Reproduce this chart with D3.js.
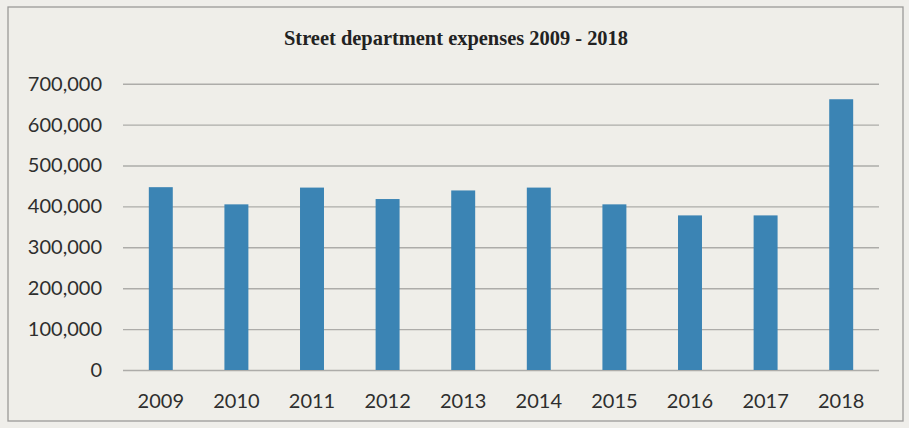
<!DOCTYPE html>
<html>
<head>
<meta charset="utf-8">
<script src="https://cdn.jsdelivr.net/npm/d3@7"></script>
<style>
  html, body { margin: 0; padding: 0; background: #efeeea; }
  svg { display: block; }
</style>
</head>
<body>
<svg id="chart" width="909" height="428"></svg>
<script>
// Annual street department expenses
const years = ["2009", "2010", "2011", "2012", "2013", "2014", "2015", "2016", "2017", "2018"];
const expenses = [447000, 405000, 446000, 418000, 439000, 446000, 405000, 378000, 378000, 662000];
const yTicks = [0, 100000, 200000, 300000, 400000, 500000, 600000, 700000];
const titleText = "Street department expenses 2009 - 2018";

const svg = d3.select("#chart");
const W = 909, H = 428;
const plot = { left: 123, right: 879, top: 83.7, bottom: 370 };

// background and frame
svg.append("rect").attr("width", W).attr("height", H).attr("fill", "#efeeea");
svg.append("rect")
  .attr("x", 8).attr("y", 7).attr("width", 895).attr("height", 414)
  .attr("fill", "#efeee9").attr("stroke", "#9a9a98").attr("stroke-width", 1.3);

const x = d3.scaleBand()
  .domain(years)
  .range([plot.left, plot.right])
  .paddingInner(0.683)
  .paddingOuter(0.3415);

const y = d3.scaleLinear()
  .domain([0, 700000])
  .range([plot.bottom, plot.top]);

// value axis with gridlines
const yAxis = svg.append("g")
  .attr("transform", `translate(${plot.left},0)`)
  .call(d3.axisLeft(y)
    .tickValues(yTicks)
    .tickFormat(d3.format(","))
    .tickSize(-(plot.right - plot.left))
    .tickPadding(21));
yAxis.select(".domain").remove();
yAxis.selectAll(".tick line")
  .attr("stroke", "#adaca9").attr("stroke-width", 1.4);
yAxis.selectAll(".tick text")
  .attr("fill", "#2e2e2e")
  .style("font-family", "Lato, 'Open Sans', sans-serif")
  .style("font-size", "20px");

// bars
svg.append("g")
  .selectAll("rect")
  .data(years.map((yr, i) => ({ yr, v: expenses[i] })))
  .join("rect")
  .attr("x", d => x(d.yr))
  .attr("y", d => y(d.v))
  .attr("width", x.bandwidth())
  .attr("height", d => y(0) - y(d.v))
  .attr("fill", "#3b84b4");

// category axis
const xAxis = svg.append("g")
  .attr("transform", `translate(0,${plot.bottom})`)
  .call(d3.axisBottom(x).tickSize(0).tickPadding(24));
xAxis.select(".domain").remove();
xAxis.selectAll(".tick text")
  .attr("fill", "#2e2e2e")
  .style("font-family", "Lato, 'Open Sans', sans-serif")
  .style("font-size", "20px");

// title, bold condensed serif
svg.append("text")
  .attr("x", 456).attr("y", 45)
  .attr("text-anchor", "middle")
  .attr("textLength", 344)
  .attr("lengthAdjust", "spacingAndGlyphs")
  .attr("fill", "#222")
  .style("font-family", "'Liberation Serif', 'DejaVu Serif', serif")
  .style("font-weight", "bold")
  .style("font-size", "21px")
  .text(titleText);
</script>
</body>
</html>
